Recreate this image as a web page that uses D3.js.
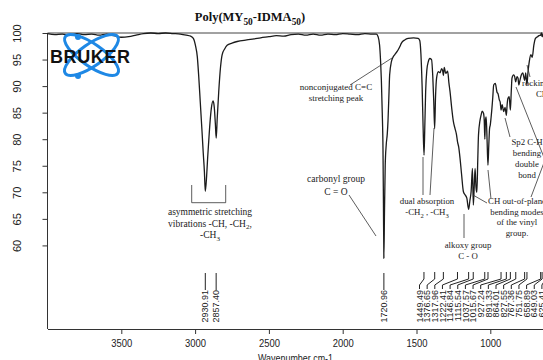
<!DOCTYPE html>
<html>
<head>
<meta charset="utf-8">
<script src="https://cdn.jsdelivr.net/npm/d3@7"></script>
<style>
body{margin:0;background:#fff;}
svg{display:block;}
</style>
</head>
<body>
<svg id="chart"></svg>
<script>
// spectrum (cm-1 , %T)
var wavenumber = [4000,3950,3900,3850,3800,3750,3700,3650,3600,3550,3500,3450,3400,3350,3300,3250,3200,3150,3100,3060,3030,3012,
  2998,2985,2976,2965,2953,2945,2937,2931,2922,2915,2908,2898,2890,2878,2870,2863,2857,2850,2840,2828,2817,2800,2783,2750,2715,
  2650,2600,2556,2500,2450,2400,2350,2300,2250,2200,2150,2100,2050,2000,1950,1900,1850,1800,1772,1760,1750,1743,1738,1732,1727,
  1724,1721,1717,1712,1705,1698,1693,1686,1682,1670,1660,1648,1640,1625,1610,1602,1580,1557,1520,1489,1478,1470,1462,1455,1449,
  1444,1438,1430,1420,1410,1398,1390,1383,1377,1371,1364,1352,1340,1330,1322,1318,1312,1302,1289,1280,1273,1262,1250,1239,1230,
  1222,1214,1205,1195,1182,1170,1159,1147,1138,1130,1121,1115,1109,1103,1097,1091,1085,1080,1070,1062,1055,1046,1041,1037,1033,
  1028,1022,1016,1010,1005,1000,995,989,983,977,966,955,947,939,933,927,920,909,900,891,886,880,872,864,858,853,842,835,828,819,
  812,807,800,790,780,767,760,752,745,736,725,716,705,694,680,670,659,654,649,640,632,625,615,600,550,500,450,400]
var transmittance = [99.9,99.7,99.8,99.6,99.9,99.7,99.8,99.6,99.8,99.5,99.2,99.3,99.6,99.9,100,99.9,100,99.9,99.8,99.6,99.4,99.0,
  97.7,95.5,92.1,87,81.4,77.5,73.9,70.2,73,76.5,79.5,83.5,85.8,87.2,86,83,80.2,84,88.9,93.5,95.9,97.0,97.7,98.1,98.4,
  98.7,98.9,99.1,99.3,99.5,99.4,99.7,99.8,99.6,99.8,99.6,99.8,99.7,99.9,99.8,99.7,99.9,99.8,99.8,99.3,97.7,94.5,91.1,85,78,
  68,57.6,66,75,79,81,83.5,89,92.1,94.6,95.4,95.9,96.2,96.8,97.6,98.1,98.7,99.0,99.1,99.0,98.6,96,90,82,77,
  82,89,93,94.6,95.2,95.0,92,87,82,88,91.5,92.7,92.5,93.3,92.8,92.0,93.5,92.4,92.8,90.5,89,86,83.3,82,81,
  79.5,78.5,76.4,73.5,70.1,69.5,68.9,66.8,68.5,70.1,74.5,67.6,71,74.5,71,70,76,80.8,83.5,84.6,85.3,84.9,83.5,80,83.5,
  84.2,80,75.1,79,82,82.7,84,85.8,88,90.2,90.5,88.9,88.5,87.4,87,85.5,86.5,85.2,86,84.5,86.5,87.7,88,85.5,89,91.5,92.1,91.8,90.8,91.8,
  91.5,90.2,91,92.1,92.5,91.1,92.5,90.2,92.5,94.6,95.9,95.4,97.7,99.0,99.3,99.5,99.6,100,99.3,99.9,99.8,99.0,99.7,99.8,99.8,99.8,99.8,99.8]

var peakLabels = [2930.91,2857.40,1720.96,1449.49,1376.65,1317.96,1222.41,1146.84,1115.54,1037.57,1015.67,
  927.24,891.33,864.01,827.55,767.36,751.75,658.89,649.03,625.41]
var xTicks = [3500,3000,2500,2000,1500,1000]
var yTicks = [60,65,70,75,80,85,90,95,100]

var size = {width:543, height:360}
var plot = {left:47.5, top:33, bottom:329}

var svg = d3.select("#chart")
  .attr("width",size.width)
  .attr("height",size.height)
  .style("color","#333")

var xScale = d3.scaleLinear().domain([4000,400]).range([plot.left, plot.left+3600*0.1476])
var yScale = d3.scaleLinear().domain([44.26,100]).range([plot.bottom, plot.top])

// frame top line
svg.append("line")
  .attr("x1",plot.left).attr("x2",size.width+5)
  .attr("y1",plot.top).attr("y2",plot.top)
  .attr("stroke","#444").attr("stroke-width",1)

var xAxis = d3.axisBottom(xScale).tickValues(xTicks).tickSize(5).tickSizeOuter(0).tickFormat(d3.format("d"))
var gx = svg.append("g")
  .attr("transform","translate(0,"+plot.bottom+")")
  .call(xAxis)
gx.selectAll("text")
  .attr("y",10)
  .style("font-family","'Liberation Sans', Arial, sans-serif")
  .style("font-size","11.5px")
  .attr("textLength",21).attr("lengthAdjust","spacingAndGlyphs")
  .attr("fill","#222")

var yAxis = d3.axisLeft(yScale).tickValues(yTicks).tickSize(5).tickSizeOuter(0)
var gy = svg.append("g")
  .attr("transform","translate("+plot.left+",0)")
  .call(yAxis)
gy.select(".domain").attr("d","M0,"+plot.bottom+"V"+plot.top)
gy.selectAll("text")
  .attr("x",null).attr("dy",null)
  .attr("transform","translate(-26.5,0) rotate(-90)")
  .attr("text-anchor","middle")
  .style("font-family","'Liberation Sans', Arial, sans-serif")
  .style("font-size","11px")
  .attr("fill","#222")

// spectrum
var points = wavenumber.map(function(w,i){ return [w, transmittance[i]] })
var line = d3.line()
  .x(function(d){ return xScale(d[0]) })
  .y(function(d){ return yScale(d[1]) })
  .curve(d3.curveMonotoneX)
svg.append("path")
  .datum(points.slice().reverse())
  .attr("d",line)
  .attr("fill","none")
  .attr("stroke","#1b1b1b")
  .attr("stroke-width",1.3)

// peak labels at the bottom
var peaks = svg.append("g").attr("id","peaks")
peakLabels.forEach(function(p,i){
  var px = xScale(p)
  var lx = i < 3 ? px : 419.5 + (i-3)*7.65
  var d = i < 3 ? "M"+px+",273V290" : "M"+px+",272V279L"+lx+",285V289"
  peaks.append("path").attr("d",d).attr("fill","none").attr("stroke","#222").attr("stroke-width",1)
  peaks.append("text")
    .attr("transform","translate("+lx+",290) rotate(-90)")
    .attr("text-anchor","end")
    .attr("dy","0.35em")
    .style("font-family","'Liberation Sans', Arial, sans-serif")
    .style("font-size","9px")
    .attr("fill","#222")
    .text(p.toFixed(2))
})

// title
var title = svg.append("text")
  .attr("x",250).attr("y",21)
  .attr("text-anchor","middle")
  .style("font-family","'Liberation Serif', 'Times New Roman', serif")
  .style("font-weight","bold")
  .style("font-size","12.5px")
  .attr("fill","#111")
richText(title, "Poly(MY_50_-IDMA_50_)", 3.5)

function richText(sel, str, shift){
  var down = false
  str.split("_").forEach(function(part, i){
    var sub = i % 2 == 1
    if(part == "") return
    var t = sel.append("tspan").text(part)
    if(sub){ t.attr("dy",shift).style("font-size","0.75em"); down = true }
    else if(down){ t.attr("dy",-shift); down = false }
  })
}

// annotations
var notes = [
  {lines:["asymmetric stretching","vibrations -CH, -CH_2_,","-CH_3_"], x:210, y:215, lh:11.5, fs:9.5},
  {lines:["carbonyl group","C = O"], x:336, y:182, lh:13, fs:9.5},
  {lines:["nonconjugated C=C","stretching peak"], x:336, y:90, lh:11, fs:9},
  {lines:["dual absorption","-CH_2_ , -CH_3_"], x:427, y:204, lh:11, fs:8.8},
  {lines:["alkoxy group","C - O"], x:468, y:248, lh:11, fs:8.8},
  {lines:["CH out-of-plane","bending modes","of the vinyl","group."], x:517, y:204, lh:10.7, fs:8.8},
  {lines:["Sp2 C-H","bending","double","bond"], x:527, y:145, lh:11, fs:8.8}
]
var ann = svg.append("g").attr("id","notes")
  .style("font-family","'Liberation Serif', 'Times New Roman', serif")
  .attr("fill","#222")
notes.forEach(function(n){
  n.lines.forEach(function(s,i){
    var t = ann.append("text")
      .attr("x",n.x).attr("y",n.y+i*n.lh)
      .attr("text-anchor","middle")
      .style("font-size",n.fs+"px")
    richText(t, s, 2.5)
  })
})
ann.append("text").attr("x",522).attr("y",86).style("font-size","8.8px").text("rocking")
var ch2 = ann.append("text").attr("x",536).attr("y",97).style("font-size","8.8px")
richText(ch2, "CH_2_", 2.5)

// leader lines
var leaders = [
  "M191.7,185V202.7H225.7V185",
  "M349,195L376,236",
  "M350,85L392,58",
  "M423,195L423,157",
  "M430,195L434,128",
  "M464,214L464,238",
  "M473,195L487,203",
  "M488,170L491,199",
  "M505,118L510,137",
  "M527,65L530,77",
  "M516,87L545,160",
  "M531,197L545,160"
]
svg.append("g").selectAll("path")
  .data(leaders)
  .enter()
  .append("path")
  .attr("d",function(d){ return d })
  .attr("fill","none")
  .attr("stroke","#333")
  .attr("stroke-width",0.8)

// x axis title
svg.append("text")
  .attr("x",295.5).attr("y",361.5)
  .attr("text-anchor","middle")
  .style("font-family","'Liberation Sans', Arial, sans-serif")
  .style("font-size","11.5px")
  .attr("textLength",75).attr("lengthAdjust","spacingAndGlyphs")
  .attr("fill","#222")
  .text("Wavenumber cm-1")

// Bruker logo
var logo = svg.append("g").attr("transform","translate(91.5,55)")
;[35,-35].forEach(function(a){
  logo.append("ellipse").attr("rx",32).attr("ry",11)
    .attr("transform","rotate("+a+")")
    .attr("fill","none").attr("stroke","#1e88e5").attr("stroke-width",3)
})
logo.append("circle").attr("cx",-13.5).attr("cy",-18).attr("r",3).attr("fill","#1e88e5")
logo.append("circle").attr("cx",-13.5).attr("cy",21).attr("r",3).attr("fill","#1e88e5")
logo.append("text")
  .attr("x",-41.5).attr("y",8.3)
  .style("font-family","'Liberation Sans', Arial, sans-serif")
  .style("font-weight","900")
  .style("font-size","18px")
  .style("letter-spacing","0.6px")
  .attr("fill","#111")
  .text("BRUKER")
</script>
</body>
</html>
